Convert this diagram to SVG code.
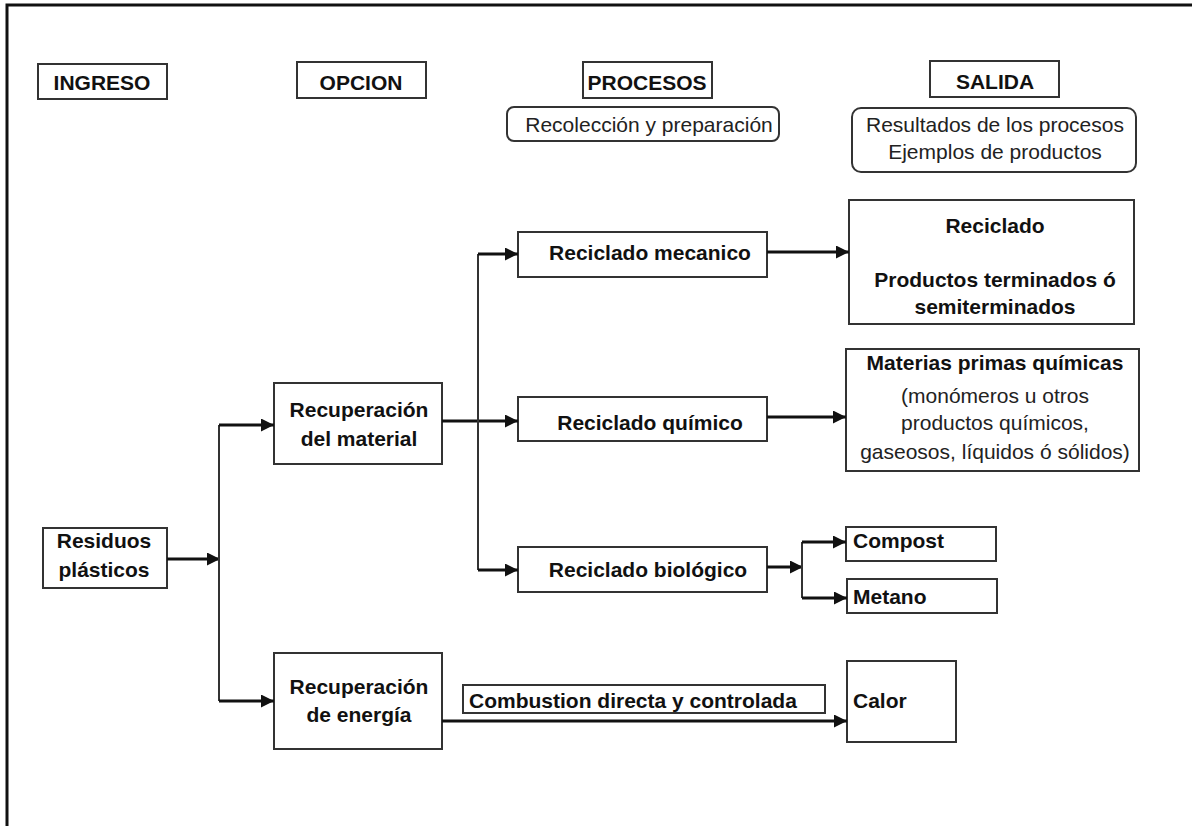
<svg xmlns="http://www.w3.org/2000/svg" width="1192" height="826" viewBox="0 0 1192 826">
<defs>
<style>
.box{fill:#fff;stroke:#333;stroke-width:2}
.b{font-family:"Liberation Sans",Arial,sans-serif;font-weight:bold;font-size:21px;fill:#111}
.r{font-family:"Liberation Sans",Arial,sans-serif;font-size:21px;fill:#222}
.c{text-anchor:middle}
.ln{stroke:#111;stroke-width:3;fill:none}
.vl{stroke:#333;stroke-width:2;fill:none}
</style>
<marker id="ah" viewBox="0 0 10 10" refX="10" refY="5" markerWidth="13" markerHeight="13" markerUnits="userSpaceOnUse" orient="auto">
<path d="M0,0 L10,5 L0,10 Z" fill="#111"/>
</marker>
</defs>
<rect width="1192" height="826" fill="#fff"/>
<g id="frame">
<path d="M7,826 L7,5 L1192,5" fill="none" stroke="#111" stroke-width="3"/>
</g>

<g id="h-ingreso"><rect class="box" x="38" y="64" width="129" height="35"/><text class="b c" x="102" y="90">INGRESO</text></g>
<g id="h-opcion"><rect class="box" x="297" y="62" width="129" height="36"/><text class="b c" x="361" y="90">OPCION</text></g>
<g id="h-procesos"><rect class="box" x="583" y="62" width="129" height="36"/><text class="b c" x="647" y="90">PROCESOS</text></g>
<g id="h-salida"><rect class="box" x="930" y="61" width="129" height="36"/><text class="b c" x="995" y="89">SALIDA</text></g>
<g id="recoleccion"><rect class="box" x="507" y="107" width="272" height="34" rx="7"/><text class="r c" x="649" y="132">Recolección y preparación</text></g>
<g id="resultados"><rect class="box" x="852" y="108" width="284" height="64" rx="9"/><text class="r c" x="995" y="132">Resultados de los procesos</text><text class="r c" x="995" y="159">Ejemplos de productos</text></g>

<g id="residuos"><rect class="box" x="43" y="528" width="124" height="60"/><text class="b c" x="104" y="548">Residuos</text><text class="b c" x="104" y="577">plásticos</text></g>
<g id="rec-material"><rect class="box" x="274" y="383" width="168" height="81"/><text class="b c" x="359" y="417">Recuperación</text><text class="b c" x="359" y="446">del material</text></g>
<g id="rec-energia"><rect class="box" x="274" y="653" width="168" height="96"/><text class="b c" x="359" y="694">Recuperación</text><text class="b c" x="359" y="722">de energía</text></g>
<g id="rec-mecanico"><rect class="box" x="518" y="232" width="249" height="45"/><text class="b c" x="650" y="260">Reciclado mecanico</text></g>
<g id="rec-quimico"><rect class="box" x="518" y="397" width="249" height="44"/><text class="b c" x="650" y="430">Reciclado químico</text></g>
<g id="rec-biologico"><rect class="box" x="518" y="547" width="249" height="45"/><text class="b c" x="648" y="577">Reciclado biológico</text></g>
<g id="out-reciclado"><rect class="box" x="849" y="200" width="285" height="124"/><text class="b c" x="995" y="233">Reciclado</text><text class="b c" x="995" y="287">Productos terminados ó</text><text class="b c" x="995" y="314">semiterminados</text></g>
<g id="out-materias"><rect class="box" x="846" y="349" width="293" height="122"/><text class="b c" x="995" y="370">Materias primas químicas</text><text class="r c" x="995" y="403">(monómeros u otros</text><text class="r c" x="995" y="430">productos químicos,</text><text class="r c" x="995" y="459">gaseosos, líquidos ó sólidos)</text></g>
<g id="out-compost"><rect class="box" x="846" y="527" width="150" height="34"/><text class="b" x="853" y="548">Compost</text></g>
<g id="out-metano"><rect class="box" x="847" y="579" width="150" height="34"/><text class="b" x="853" y="604">Metano</text></g>
<g id="combustion"><rect class="box" x="463" y="685" width="362" height="28"/><text class="b" x="469" y="708">Combustion directa y controlada</text></g>
<g id="out-calor"><rect class="box" x="847" y="661" width="109" height="81"/><text class="b" x="853" y="708">Calor</text></g>

<g id="connectors">
<path class="ln" d="M167,559 L220,559" marker-end="url(#ah)"/>
<path class="vl" d="M219,425 L219,701"/>
<path class="ln" d="M219,425 L274,425" marker-end="url(#ah)"/>
<path class="ln" d="M219,701 L274,701" marker-end="url(#ah)"/>
<path class="ln" d="M442,421 L518,421" marker-end="url(#ah)"/>
<path class="vl" d="M478,254 L478,570"/>
<path class="ln" d="M478,254 L518,254" marker-end="url(#ah)"/>
<path class="ln" d="M478,570 L518,570" marker-end="url(#ah)"/>
<path class="ln" d="M767,252 L849,252" marker-end="url(#ah)"/>
<path class="ln" d="M767,417 L846,417" marker-end="url(#ah)"/>
<path class="ln" d="M767,567 L803,567" marker-end="url(#ah)"/>
<path class="vl" d="M802,542 L802,598"/>
<path class="ln" d="M802,542 L846,542" marker-end="url(#ah)"/>
<path class="ln" d="M802,598 L847,598" marker-end="url(#ah)"/>
<path class="ln" d="M442,721 L847,721" marker-end="url(#ah)"/>
</g>
</svg>
